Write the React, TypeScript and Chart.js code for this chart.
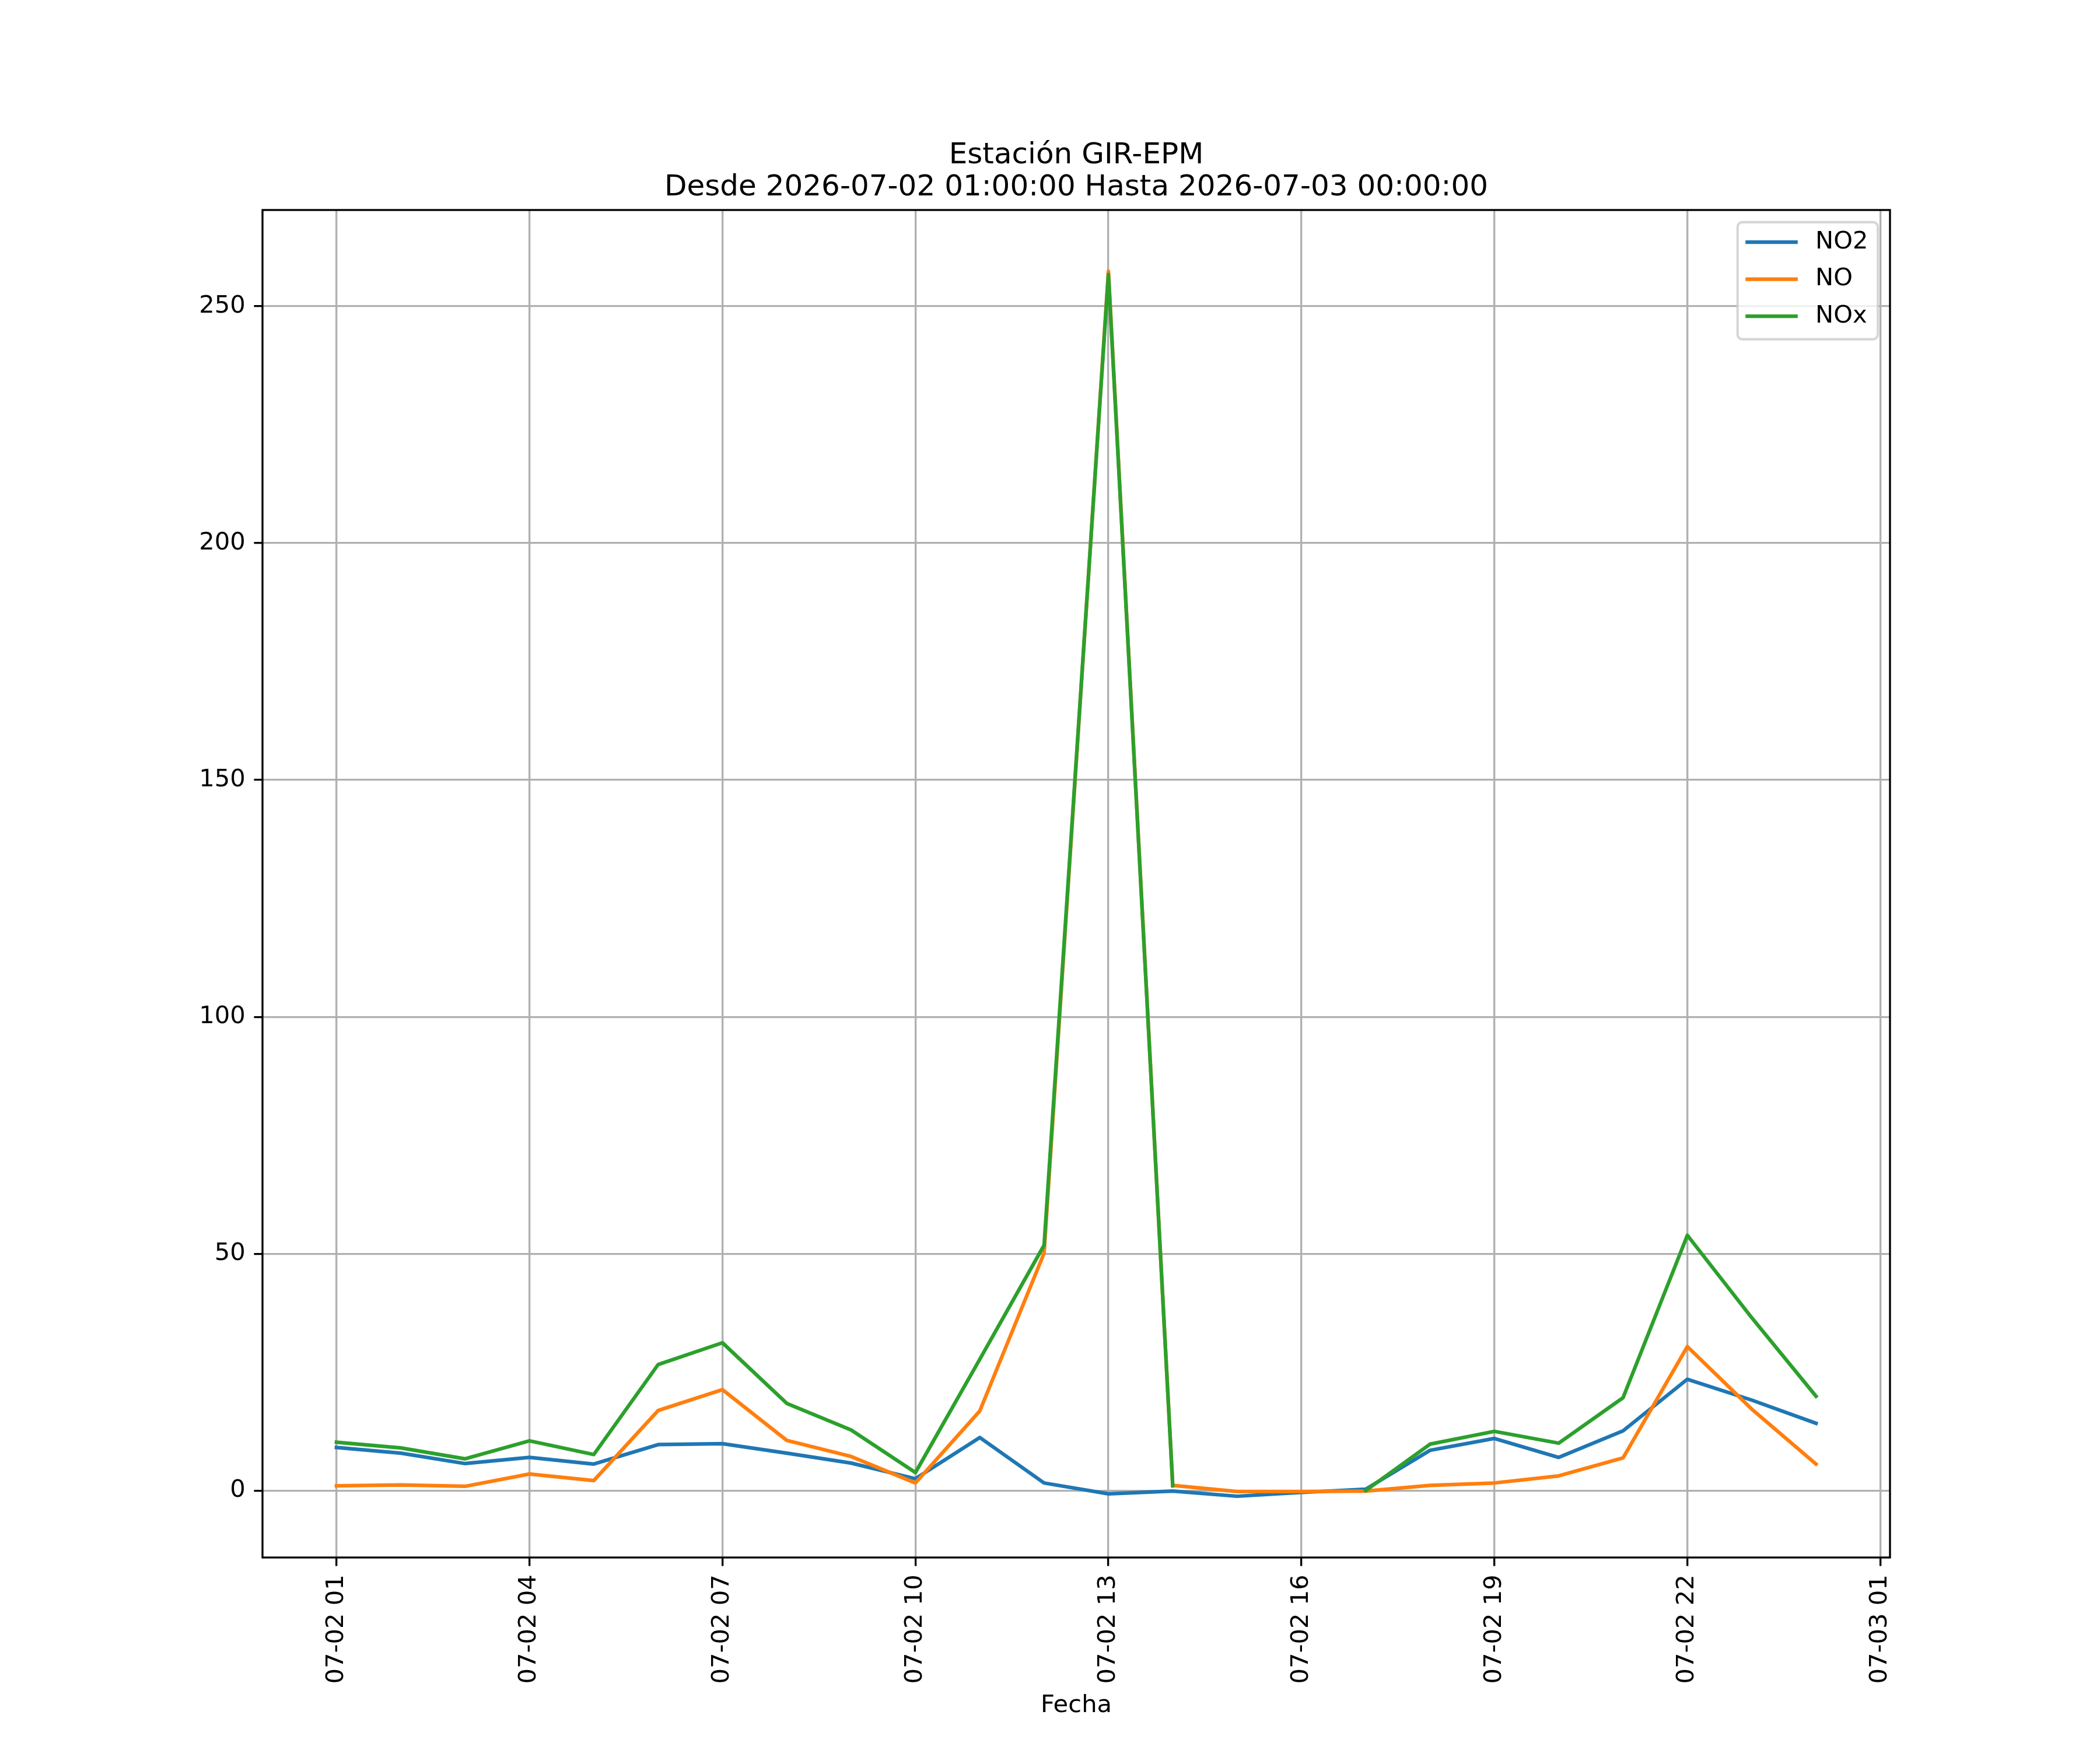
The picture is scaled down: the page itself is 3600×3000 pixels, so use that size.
import React, { useEffect, useRef } from 'react';
import Chart from 'chart.js/auto';

// hourly readings, 07-02 01:00 .. 07-03 00:00 (hour 24 = next day 00)
const hours = [1, 2, 3, 4, 5, 6, 7, 8, 9, 10, 11, 12, 13, 14, 15, 16, 17, 18, 19, 20, 21, 22, 23, 24];
const no2 = [9.1, 7.9, 5.7, 7.0, 5.6, 9.7, 9.9, 7.9, 5.8, 2.5, 11.2, 1.6, -0.7, -0.1, -1.2, -0.4, 0.3, 8.5, 11.0, 7.0, 12.6, 23.5, 19.1, 14.2];
const no = [1.0, 1.2, 0.9, 3.5, 2.1, 16.9, 21.3, 10.6, 7.2, 1.6, 16.8, 50.1, 257.4, 1.1, -0.2, -0.2, -0.1, 1.1, 1.6, 3.1, 6.9, 30.4, 17.2, 5.6];
const nox = [10.2, 9.0, 6.7, 10.5, 7.6, 26.6, 31.2, 18.4, 12.8, 3.8, 27.7, 51.8, 256.7, 1.0, null, null, 0.0, 9.8, 12.5, 10.0, 19.6, 53.9, 36.5, 19.9];

const xTickHours = [1, 4, 7, 10, 13, 16, 19, 22, 25];
const xTickLabels = ['07-02 01', '07-02 04', '07-02 07', '07-02 10', '07-02 13', '07-02 16', '07-02 19', '07-02 22', '07-03 01'];
const yTicks = [0, 50, 100, 150, 200, 250];

const titleLines = ['Estación GIR-EPM', 'Desde 2026-07-02 01:00:00 Hasta 2026-07-03 00:00:00'];

const FONT = "'DejaVu Sans', sans-serif";
const PT = 300 / 72; // figure was rendered at 300 dpi

const toPoints = (ys: (number | null)[]) => hours.map((h, i) => ({ x: h, y: ys[i] }));

// matplotlib-like 5% margins
const allY = [...no2, ...no, ...nox].filter((v): v is number => v !== null);
const yMin = Math.min(...allY);
const yMax = Math.max(...allY);
const yPad = (yMax - yMin) * 0.05;
const xPad = (hours[hours.length - 1] - hours[0]) * 0.05;

const framePlugin = {
  id: 'mplFrame',
  afterDatasetsDraw(chart: any) {
    const { ctx, chartArea: a } = chart;
    ctx.save();
    // spines
    ctx.strokeStyle = '#000000';
    ctx.lineWidth = 0.8 * PT;
    ctx.strokeRect(a.left, a.top, a.right - a.left, a.bottom - a.top);

    // title
    const cx = (a.left + a.right) / 2;
    ctx.fillStyle = '#000000';
    ctx.font = `${12 * PT}px ${FONT}`;
    ctx.textAlign = 'center';
    ctx.textBaseline = 'alphabetic';
    ctx.fillText(titleLines[0], cx, a.top - 80);
    ctx.fillText(titleLines[1], cx, a.top - 25);

    // legend (upper right)
    const fs = 10 * PT;
    ctx.font = `${fs}px ${FONT}`;
    const ds = chart.data.datasets;
    const maxW = Math.max(...ds.map((d: any) => ctx.measureText(d.label).width));
    const w = fs * (0.4 + 2 + 0.8 + 0.4) + maxW;
    const h = fs * 4.82;
    const right = a.right - 0.5 * fs;
    const top = a.top + 0.5 * fs;
    const left = right - w;
    ctx.beginPath();
    ctx.roundRect(left, top, w, h, 0.2 * fs);
    ctx.fillStyle = 'rgba(255,255,255,0.8)';
    ctx.fill();
    ctx.strokeStyle = 'rgba(204,204,204,0.8)';
    ctx.lineWidth = 1 * PT;
    ctx.stroke();
    ds.forEach((d: any, i: number) => {
      const y = top + 0.82 * fs + i * 1.525 * fs;
      ctx.beginPath();
      ctx.strokeStyle = d.borderColor;
      ctx.lineWidth = 1.5 * PT;
      ctx.lineCap = 'square';
      ctx.moveTo(left + 0.4 * fs, y);
      ctx.lineTo(left + 2.4 * fs, y);
      ctx.stroke();
      ctx.fillStyle = '#000000';
      ctx.textAlign = 'left';
      ctx.textBaseline = 'middle';
      ctx.fillText(d.label, left + 3.2 * fs, y);
    });
    ctx.restore();
  }
};

const App: React.FC = () => {
  const canvasRef = useRef<HTMLCanvasElement>(null);
  const chartRef = useRef<any>(null);

  useEffect(() => {
    document.body.style.margin = '0';
    if (chartRef.current) chartRef.current.destroy();
    Chart.defaults.font.family = FONT;
    Chart.defaults.color = '#000000';

    const lineStyle = {
      borderWidth: 1.5 * PT,
      pointRadius: 0,
      pointHoverRadius: 0,
      tension: 0,
      fill: false,
      borderJoinStyle: 'round' as const,
      borderCapStyle: 'square' as const,
      spanGaps: false
    };

    const tickFont = { size: 10 * PT, family: FONT };

    if (canvasRef.current) {
      chartRef.current = new Chart(canvasRef.current, {
        type: 'line',
        data: {
          datasets: [
            { label: 'NO2', data: toPoints(no2), borderColor: '#1f77b4', backgroundColor: '#1f77b4', order: 2, ...lineStyle },
            { label: 'NO', data: toPoints(no), borderColor: '#ff7f0e', backgroundColor: '#ff7f0e', order: 1, ...lineStyle },
            { label: 'NOx', data: toPoints(nox), borderColor: '#2ca02c', backgroundColor: '#2ca02c', order: 0, ...lineStyle }
          ]
        },
        options: {
          animation: false,
          responsive: true,
          maintainAspectRatio: false,
          devicePixelRatio: 1,
          layout: { padding: { top: 360, right: 360, left: 0, bottom: 0 } },
          plugins: {
            legend: { display: false },
            title: { display: false },
            tooltip: { enabled: false }
          },
          scales: {
            x: {
              type: 'linear',
              min: hours[0] - xPad,
              max: hours[hours.length - 1] + xPad,
              afterBuildTicks: (scale: any) => {
                scale.ticks = xTickHours.map(v => ({ value: v }));
              },
              afterFit: (scale: any) => {
                scale.height = 330;
              },
              ticks: {
                autoSkip: false,
                minRotation: 90,
                maxRotation: 90,
                padding: 3.5 * PT,
                font: tickFont,
                color: '#000000',
                callback: (_v: any, i: number) => xTickLabels[i]
              },
              grid: {
                color: '#b0b0b0',
                lineWidth: 0.8 * PT,
                drawTicks: true,
                tickLength: 3.5 * PT,
                tickColor: '#000000',
                tickWidth: 0.8 * PT
              },
              border: { display: false },
              title: {
                display: true,
                text: 'Fecha',
                font: tickFont,
                color: '#000000',
                padding: { top: 0, bottom: 51 }
              }
            },
            y: {
              type: 'linear',
              min: yMin - yPad,
              max: yMax + yPad,
              afterBuildTicks: (scale: any) => {
                scale.ticks = yTicks.map(v => ({ value: v }));
              },
              afterFit: (scale: any) => {
                scale.width = 450;
              },
              ticks: {
                padding: 3.5 * PT,
                font: tickFont,
                color: '#000000',
                callback: (v: any) => String(v)
              },
              grid: {
                color: '#b0b0b0',
                lineWidth: 0.8 * PT,
                drawTicks: true,
                tickLength: 3.5 * PT,
                tickColor: '#000000',
                tickWidth: 0.8 * PT
              },
              border: { display: false }
            }
          }
        },
        plugins: [framePlugin]
      });
    }

    return () => {
      if (chartRef.current) chartRef.current.destroy();
      chartRef.current = null;
    };
  }, []);

  return (
    <div style={{ width: 3600, height: 3000, position: 'relative', background: '#ffffff' }}>
      <canvas ref={canvasRef}></canvas>
    </div>
  );
};

export default App;
